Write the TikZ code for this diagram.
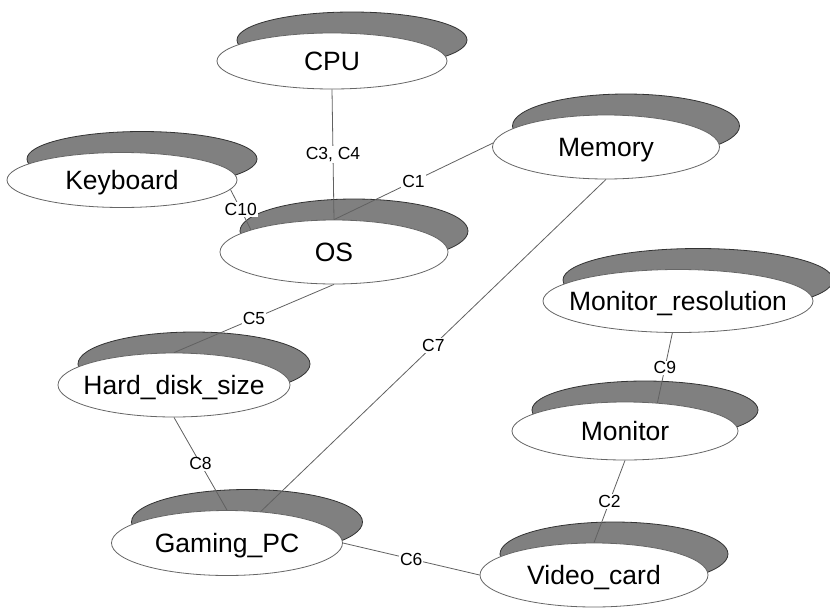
\documentclass[tikz,border=0pt]{standalone}
\usepackage{fontspec}
\setmainfont{Liberation Sans}
\usetikzlibrary{shapes.geometric, shadows}

\tikzset{
  entity/.style={ellipse, draw=black!60, line width=0.8pt, fill=white,
    minimum width=230, minimum height=60, inner sep=0pt,
    text height=19pt, text depth=0pt,
    font=\fontsize{26.5}{30}\selectfont,
    general shadow={shadow xshift=20pt, shadow yshift=21pt,
      fill=black!50, draw=black!80, line width=0.8pt}},
  link/.style={draw=black!62, line width=0.8pt},
  lbl/.style={fill=white, inner sep=1pt, font=\fontsize{17.5}{19}\selectfont}
}
\newcommand{\ename}[1]{\makebox[0pt]{#1}}

\begin{document}
\begin{tikzpicture}[x=1pt, y=-1pt]
\useasboundingbox (0,0) rectangle (830,608);

% entities
\node (cpu) [entity, minimum height=56] at (332,61) {\ename{CPU}};
\node (kbd) [entity, minimum height=55] at (122,180) {\ename{Keyboard}};
\node (mem) [entity, minimum width=227, minimum height=64] at (606,147) {\ename{Memory}};
\node (os) [entity, minimum width=228, minimum height=64] at (334,252) {\ename{OS}};
\node (monres) [entity, minimum width=270, minimum height=63] at (678,301) {\ename{Monitor\_resolution}};
\node (hdd) [entity, minimum width=232, minimum height=64] at (174,385) {\ename{Hard\_disk\_size}};
\node (mon) [entity, minimum width=226, minimum height=58] at (625,431) {\ename{Monitor}};
\node (gpc) [entity, minimum width=231, minimum height=65] at (227,543) {\ename{Gaming\_PC}};
\node (vcard) [entity, minimum width=228, minimum height=64] at (594,575) {\ename{Video\_card}};

% constraints
\draw[link] (cpu.south) -- node[lbl]{C3, C4} (os.north);
\draw[link] (mem.178) -- node[lbl]{C1} (os.north);
\draw[link] (kbd.-5) -- node[lbl]{C10} (os.165);
\draw[link] (os.south) -- node[lbl]{C5} (hdd.north);
\draw[link] (mem.south) -- node[lbl]{C7} (gpc.43);
\draw[link] (hdd.south) -- node[lbl]{C8} (gpc.north);
\draw[link] (gpc.east) -- node[lbl]{C6} (vcard.west);
\draw[link] (monres.-100) -- node[lbl]{C9} (mon.41);
\draw[link] (mon.south) -- node[lbl]{C2} (vcard.north);

\end{tikzpicture}
\end{document}
